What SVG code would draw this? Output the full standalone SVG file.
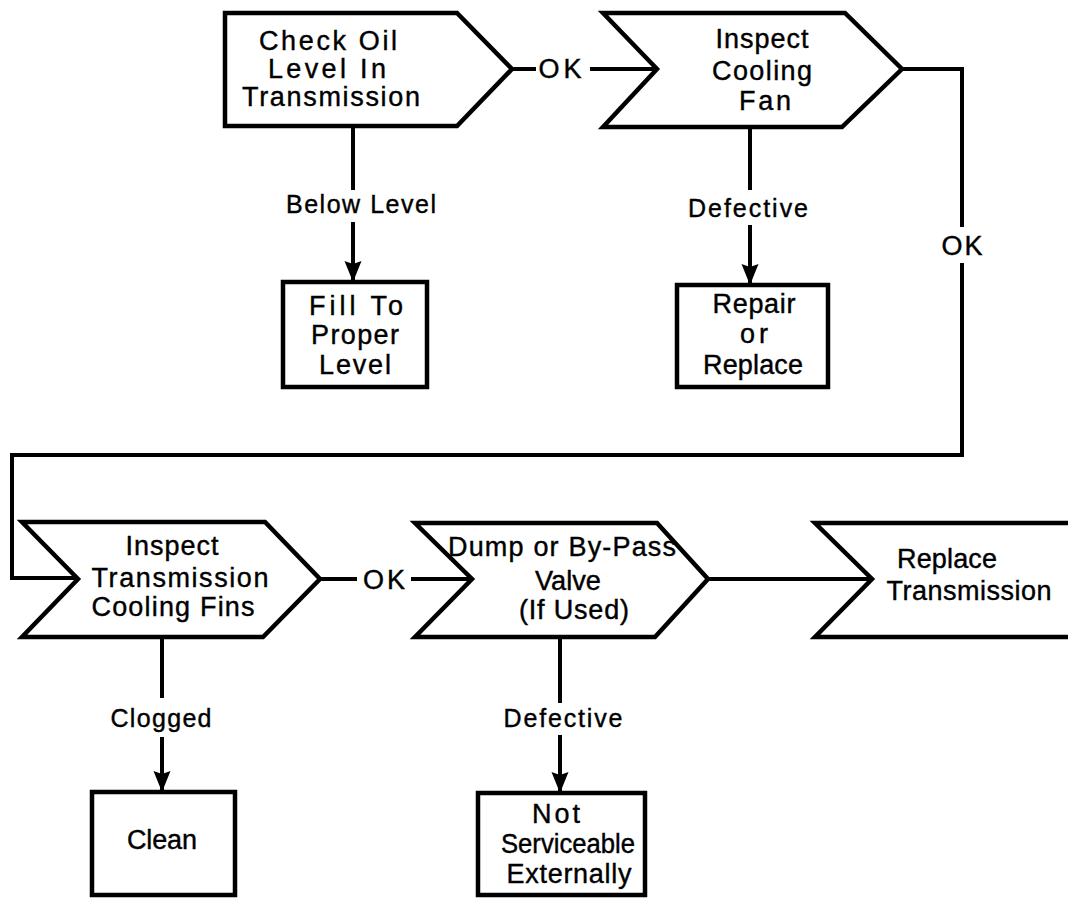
<svg xmlns="http://www.w3.org/2000/svg" width="1068" height="898" viewBox="0 0 1068 898">
<style>
.n{fill:#fff;stroke:#000;stroke-width:4.5;stroke-linejoin:miter}
.o{fill:none;stroke:#000;stroke-width:4.5}
.c{fill:none;stroke:#000;stroke-width:4}
text{font-family:"Liberation Sans",Arial,sans-serif;font-size:27px;fill:#000;stroke:#000;stroke-width:0.4;text-anchor:middle}
.l{font-size:25px}
</style>
<defs>
<marker id="ah" markerUnits="userSpaceOnUse" markerWidth="24" markerHeight="20" refX="21" refY="10" orient="auto">
<path d="M0,1.5 L21,10 L0,18.5 L3,10 Z" fill="#000"/>
</marker>
</defs>
<g id="connectors">
<path class="c" d="M512,69 H536"/>
<path class="c" d="M590,69 H657"/>
<path class="c" d="M902,69 H962 V227"/>
<path class="c" d="M962,263 V455 H12 V578 H78"/>
<path class="c" d="M320,579 H357"/>
<path class="c" d="M411,579 H472"/>
<path class="c" d="M708,579 H872"/>
<path class="c" d="M353,126 V190"/>
<path class="c" d="M353,222 V282" marker-end="url(#ah)"/>
<path class="c" d="M750,127 V190"/>
<path class="c" d="M750,225 V285" marker-end="url(#ah)"/>
<path class="c" d="M162,637 V698"/>
<path class="c" d="M162,737 V792" marker-end="url(#ah)"/>
<path class="c" d="M560,637 V703"/>
<path class="c" d="M560,735 V793" marker-end="url(#ah)"/>
<text x="560" y="78" textLength="43">OK</text>
<text x="962" y="255" textLength="41">OK</text>
<text x="384" y="589" textLength="42">OK</text>
<text class="l" x="361" y="213" textLength="150">Below Level</text>
<text class="l" x="748" y="217" textLength="120">Defective</text>
<text class="l" x="161" y="727" textLength="101">Clogged</text>
<text class="l" x="563" y="727" textLength="119">Defective</text>
</g>
<g id="check-oil">
<path class="n" d="M225,13 H457 L512,69 L457,126 H225 Z"/>
<text x="328" y="50" textLength="138">Check Oil</text>
<text x="327" y="78" textLength="118">Level In</text>
<text x="331" y="106" textLength="178">Transmission</text>
</g>
<g id="inspect-fan">
<path class="n" d="M603,13 H845 L902,69 L842,127 H603 L657,69 Z"/>
<text x="762" y="48" textLength="93">Inspect</text>
<text x="762" y="80" textLength="100">Cooling</text>
<text x="765" y="110" textLength="52">Fan</text>
</g>
<g id="fill">
<rect class="n" x="283" y="282" width="144" height="105"/>
<text x="356" y="315" textLength="94">Fill To</text>
<text x="355" y="344" textLength="88">Proper</text>
<text x="355" y="374" textLength="72">Level</text>
</g>
<g id="repair">
<rect class="n" x="677" y="285" width="151" height="102"/>
<text x="754" y="313" textLength="83">Repair</text>
<text x="754" y="343" textLength="28">or</text>
<text x="753" y="374" textLength="100">Replace</text>
</g>
<g id="inspect-fins">
<path class="n" d="M22,522 H265 L320,579 L263,637 H22 L78,579 Z"/>
<text x="172" y="555" textLength="93">Inspect</text>
<text x="180" y="587" textLength="177">Transmission</text>
<text x="173" y="616" textLength="163">Cooling Fins</text>
</g>
<g id="valve">
<path class="n" d="M415,523 H657 L708,579 L655,637 H415 L472,579 Z"/>
<text x="562" y="556" textLength="228">Dump or By-Pass</text>
<text x="568" y="590" textLength="66" lengthAdjust="spacingAndGlyphs">Valve</text>
<text x="574" y="619" textLength="110">(If Used)</text>
</g>
<g id="replace">
<path class="o" d="M1072,523 H815 L872,579 L815,637 H1072"/>
<text x="947" y="568" textLength="100">Replace</text>
<text x="969" y="600" textLength="165">Transmission</text>
</g>
<g id="clean">
<rect class="n" x="92" y="792" width="143" height="103"/>
<text x="162" y="849" textLength="70">Clean</text>
</g>
<g id="not-serviceable">
<rect class="n" x="478" y="793" width="167" height="102"/>
<text x="556" y="823" textLength="48">Not</text>
<text x="568" y="853" textLength="134" lengthAdjust="spacingAndGlyphs">Serviceable</text>
<text x="569" y="883" textLength="125">Externally</text>
</g>
</svg>
